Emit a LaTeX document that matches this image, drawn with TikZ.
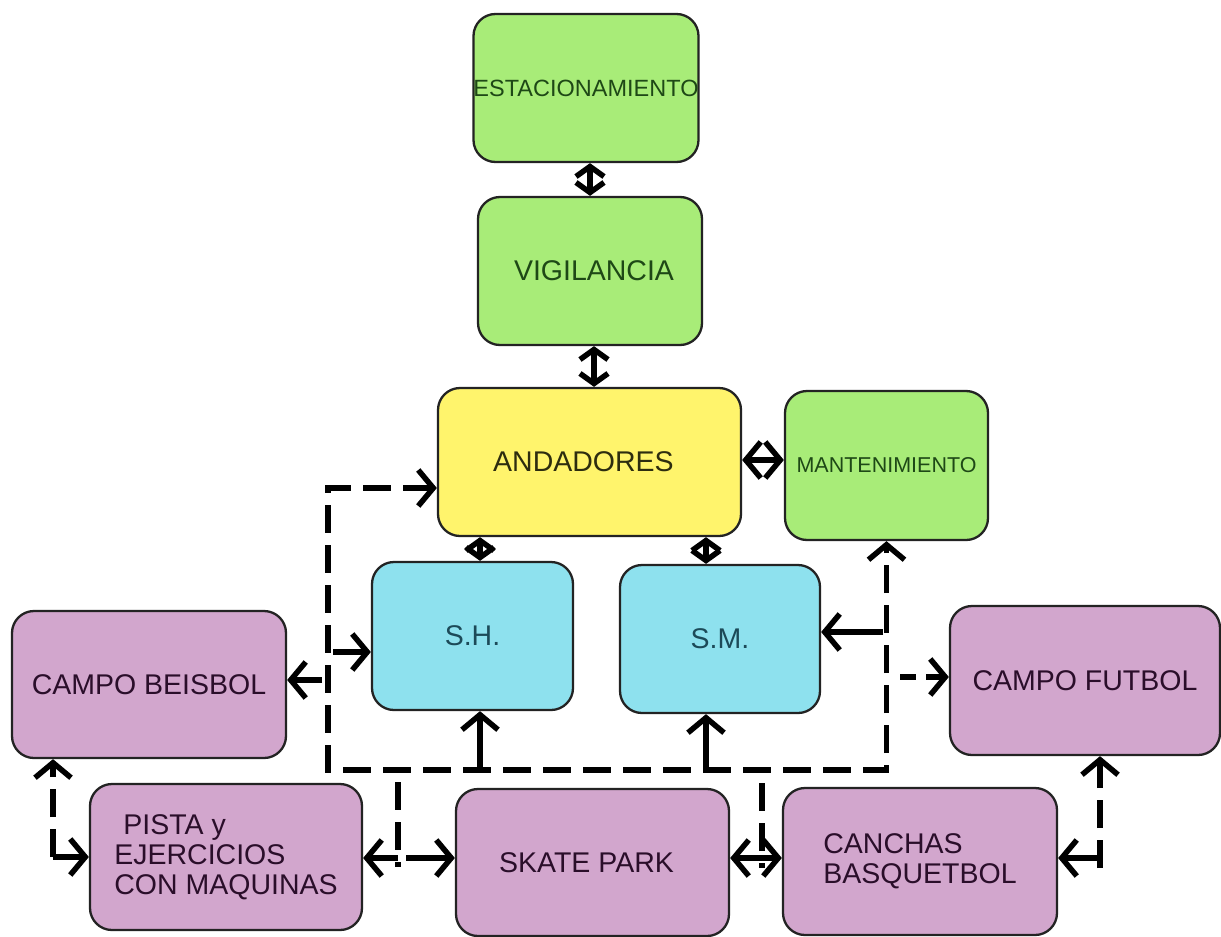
\documentclass[tikz,border=0pt]{standalone}
\usepackage{fontspec}
\setmainfont{Liberation Sans}
\usetikzlibrary{arrows.meta}
\definecolor{gfill}{RGB}{168,236,120}
\definecolor{yfill}{RGB}{255,244,108}
\definecolor{cfill}{RGB}{142,225,238}
\definecolor{pfill}{RGB}{210,166,205}
\definecolor{gtext}{RGB}{30,72,22}
\definecolor{ytext}{RGB}{45,45,15}
\definecolor{ctext}{RGB}{28,74,88}
\definecolor{ptext}{RGB}{42,14,42}
\definecolor{bline}{RGB}{35,35,35}
\begin{document}
\begin{tikzpicture}[x=1pt,y=-1pt,
  box/.style={draw=bline, line width=2.3pt, rounded corners=22pt, inner sep=0pt, align=left},
  gbox/.style={box, fill=gfill, text=gtext},
  ybox/.style={box, fill=yfill, text=ytext},
  cbox/.style={box, fill=cfill, text=ctext},
  pbox/.style={box, fill=pfill, text=ptext},
  big/.style={font=\fontsize{28.5}{30}\selectfont},
  tip/.tip={Straight Barb[length=15pt,width=36pt]},
  stip/.tip={Straight Barb[length=10pt,width=28pt]},
  sl/.style={line width=5.5pt, draw=black},
  dl/.style={line width=5.5pt, draw=black, dash pattern=on 28pt off 12pt}]
\useasboundingbox (0,0) rectangle (1221,937);
\fill[white] (0,0) rectangle (1221,937);

% boxes
\node[gbox, minimum width=224pt, minimum height=148pt, font=\fontsize{23.5}{25}\selectfont] (est) at (586,88) {ESTACIONAMIENTO};
\node[gbox, minimum width=224pt, minimum height=148pt, big] (vig) at (590,271) {\hspace{8pt}VIGILANCIA};
\node[ybox, minimum width=303pt, minimum height=148pt, big] (and) at (589.5,462) {ANDADORES\hspace{12pt}};
\node[gbox, minimum width=203pt, minimum height=149pt, font=\fontsize{21.5}{23}\selectfont] (man) at (886.5,465.5) {MANTENIMIENTO};
\node[cbox, minimum width=201pt, minimum height=148pt, big] (sh) at (472.5,636) {S.H.};
\node[cbox, minimum width=200pt, minimum height=148pt, big] (sm) at (720,639) {S.M.};
\node[pbox, minimum width=274pt, minimum height=147pt, big] (beis) at (149,684.5) {CAMPO BEISBOL};
\node[pbox, minimum width=270pt, minimum height=149pt, big] (fut) at (1085,680.5) {CAMPO FUTBOL};
\node[pbox, minimum width=272pt, minimum height=146pt, big] (pista) at (226,857) {\hspace{9pt}PISTA y\\EJERCICIOS\\CON MAQUINAS};
\node[pbox, minimum width=273pt, minimum height=147pt, big] (skate) at (592.5,862.5) {SKATE PARK\hspace{12pt}};
\node[pbox, minimum width=274pt, minimum height=147pt, big] (can) at (920,861.5) {CANCHAS\\BASQUETBOL};

% junction coordinates
\coordinate (tl) at (328,488);
\coordinate (bl) at (328,770);
\coordinate (j1) at (333,652);
\coordinate (j2) at (322,680);
\coordinate (j3) at (480,770);
\coordinate (j4) at (706,770);
\coordinate (j5) at (883,632);
\coordinate (j6) at (900,677);
\coordinate (v1t) at (398,782);
\coordinate (v1m) at (398,858);
\coordinate (v1b) at (398,867);
\coordinate (v2t) at (762,783);
\coordinate (v2m) at (762,858);
\coordinate (v2b) at (762,868);
\coordinate (v3m) at (1100,858);
\coordinate (v3b) at (1100,868);
\coordinate (v4m) at (53,857);

% vertical double arrows
\draw[sl, stip-stip] (vig.north |- est.south) -- (vig.north);
\draw[sl, stip-stip] ([xshift=4pt]vig.south) -- ([xshift=4pt]vig.south |- and.north);
\draw[sl, stip-stip] ([xshift=7.5pt]sh.north |- and.south) -- ([xshift=7.5pt]sh.north);
\draw[sl, stip-stip] ([xshift=-14pt]sm.north |- and.south) -- ([xshift=-14pt]sm.north);
\draw[sl, tip-tip] ([yshift=2pt]and.east) -- ([yshift=2pt]and.east -| man.west);

% dashed loop
\draw[dl, tip-tip] (and.west |- tl) -- (tl) -- (bl) -- (man.south |- bl) -- (man.south);
\draw[sl, -tip] (j1) -- (sh.west |- j1);
\draw[sl, -tip] (j2) -- (beis.east |- j2);
\draw[sl, -tip] (j3) -- (j3 |- sh.south);
\draw[sl, -tip] (j4) -- (j4 |- sm.south);
\draw[sl, -tip] (j5) -- (sm.east |- j5);
\draw[dl, dash pattern=on 16pt off 10pt, -tip] (j6) -- (fut.west |- j6);

% bottom row links
\draw[dl] (v1t) -- (v1b);
\draw[sl, -tip] (v1m) -- (pista.east |- v1m);
\draw[sl, -tip] ([xshift=8pt]v1m) -- (skate.west |- v1m);
\draw[dl] (v2t) -- (v2b);
\draw[sl, -tip] (v2m) -- (skate.east |- v2m);
\draw[sl, -tip] (v2m) -- (can.west |- v2m);
\draw[dl, -tip] (v3b) -- (v3b |- fut.south);
\draw[sl, -tip] (v3m) -- (can.east |- v3m);
\draw[dl, -tip] (v4m) -- (v4m |- beis.south);
\draw[sl, -tip] (v4m) -- (pista.west |- v4m);
\end{tikzpicture}
\end{document}
